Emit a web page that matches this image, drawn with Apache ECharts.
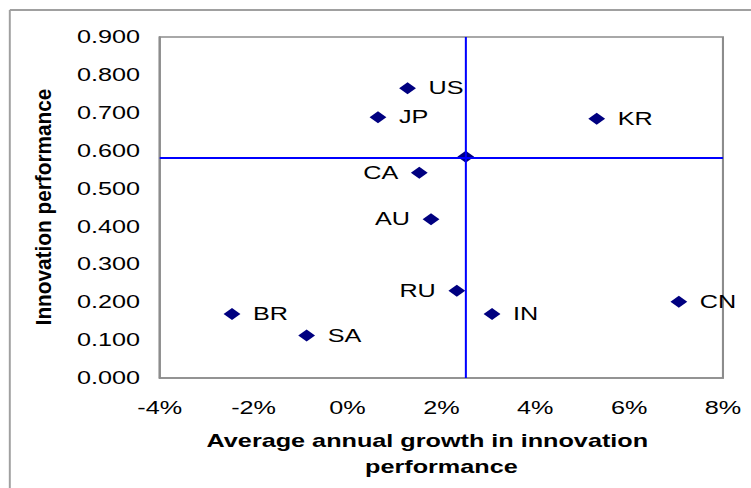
<!DOCTYPE html>
<html>
<head>
<meta charset="utf-8">
<script src="https://cdn.jsdelivr.net/npm/echarts@6/dist/echarts.min.js"></script>
<style>
  html, body { margin: 0; padding: 0; background: #fff; overflow: hidden; }
  #wrap { width: 751px; height: 488px; overflow: hidden; }
  /* the original export is stretched horizontally, so draw narrow and stretch */
  #chart { width: 536px; height: 488px; transform: scaleX(1.4011); transform-origin: 0 0; }
</style>
</head>
<body>
<div id="wrap"><div id="chart"></div></div>
<script>
// country codes, average annual growth (%), innovation performance
const countries = ['US', 'JP', 'KR', 'CA', 'AU', 'RU', 'IN', 'CN', 'BR', 'SA'];
const growth = [1.28, 0.65, 5.31, 1.53, 1.78, 2.33, 3.08, 7.06, -2.46, -0.87];
const performance = [0.765, 0.688, 0.684, 0.542, 0.419, 0.230, 0.169, 0.201, 0.169, 0.112];
const leftLabelled = ['CA', 'AU', 'RU'];
// average point, drawn with a crosshair
const avgGrowth = 2.52;
const avgPerformance = 0.584;

const FONT = '"Liberation Sans", Arial, sans-serif';
const NAVY = '#000080';
const AXIS = '#8c8c8c';

const chart = echarts.init(document.getElementById('chart'), null, { renderer: 'svg' });

const points = countries.map((c, i) => ({
  name: c,
  value: [growth[i], performance[i]],
  label: { position: leftLabelled.includes(c) ? 'left' : 'right' },
}));

chart.setOption({
  backgroundColor: '#fff',
  animation: false,
  grid: {
    left: 114, right: 20, top: 37, bottom: 110,
    show: true, borderColor: AXIS, borderWidth: 1.5,
  },
  xAxis: {
    type: 'value', min: -4, max: 8, interval: 2,
    axisLine: { show: true, onZero: false, lineStyle: { color: AXIS, width: 1.5 } },
    axisTick: { show: false },
    splitLine: { show: false },
    axisLabel: { color: '#000', fontFamily: FONT, fontSize: 18, margin: 21, formatter: v => v + '%' },
    name: '{a|Average annual growth in innovation}\n{b|performance}',
    nameLocation: 'middle', nameGap: 50,
    nameTextStyle: {
      color: '#000', fontFamily: FONT, fontSize: 18, fontWeight: 'bold', lineHeight: 26,
      rich: {
        a: { color: '#000', fontFamily: FONT, fontSize: 18, fontWeight: 'bold', lineHeight: 26, padding: [0, 20, 0, 0] },
        b: { color: '#000', fontFamily: FONT, fontSize: 18, fontWeight: 'bold', lineHeight: 26 },
      },
    },
  },
  yAxis: {
    type: 'value', min: 0, max: 0.9, interval: 0.1,
    axisLine: { show: true, onZero: false, lineStyle: { color: AXIS, width: 1.5 } },
    axisTick: { show: false },
    splitLine: { show: false },
    axisLabel: { color: '#000', fontFamily: FONT, fontSize: 18, margin: 14, formatter: v => v.toFixed(3) },
  },
  graphic: [
    // outer frame (top and left edges visible)
    { type: 'line', shape: { x1: 7, y1: 10, x2: 536, y2: 10 }, style: { stroke: '#a0a0a0', lineWidth: 2 } },
    { type: 'line', shape: { x1: 7, y1: 10, x2: 7, y2: 488 }, style: { stroke: '#a0a0a0', lineWidth: 1.4 } },
    // y axis title
    {
      type: 'text', x: 31, y: 207, rotation: Math.PI / 2, scaleX: 1.3,
      style: {
        text: 'Innovation performance', fill: '#000',
        fontFamily: FONT, fontSize: 16, fontWeight: 'bold',
        align: 'center', verticalAlign: 'middle',
      },
    },
  ],
  series: [
    {
      type: 'scatter',
      data: [[avgGrowth, avgPerformance]],
      symbol: 'diamond', symbolSize: 12,
      itemStyle: { color: NAVY, opacity: 1 },
      z: 3,
      markLine: {
        silent: true, symbol: 'none',
        label: { show: false },
        lineStyle: { color: '#0000ff', type: 'solid', opacity: 1 },
        data: [
          { xAxis: avgGrowth, lineStyle: { width: 1.45 } },
          { yAxis: avgPerformance, lineStyle: { width: 2 } },
        ],
      },
    },
    {
      type: 'scatter',
      data: points,
      symbol: 'diamond', symbolSize: 12,
      itemStyle: { color: NAVY, opacity: 1 },
      z: 4,
      label: {
        show: true, formatter: p => p.name,
        color: '#000', opacity: 1, fontFamily: FONT, fontSize: 18, distance: 9,
      },
    },
  ],
});
</script>
</body>
</html>
